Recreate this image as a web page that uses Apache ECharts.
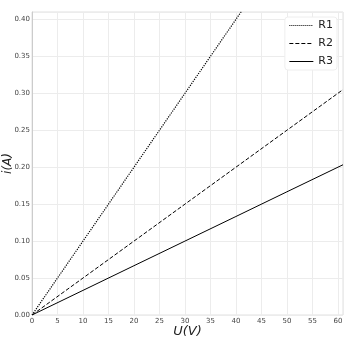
<!DOCTYPE html>
<html><head><meta charset="utf-8">
<script src="https://cdn.jsdelivr.net/npm/echarts@6/dist/echarts.min.js"></script>
<style>html,body{margin:0;padding:0;background:#fff}#c{width:351px;height:339px}</style>
</head><body><div id="c"></div>
<script>
const U = [0, 10, 20, 30, 40, 50, 61];
const R1 = [0, 0.10, 0.20, 0.30, 0.40, 0.50, 0.61];
const R2 = [0, 0.05, 0.10, 0.15, 0.20, 0.25, 0.305];
const R3 = [0, 0.0333, 0.0667, 0.10, 0.1333, 0.1667, 0.2033];
const names = ['R1', 'R2', 'R3'];
const styles = ['dotted', 'dashed', 'solid'];
const F = 'DejaVu Sans';
const chart = echarts.init(document.getElementById('c'));
const pair = a => U.map((u, i) => [u, a[i]]);
chart.setOption({
  animation: false,
  textStyle: {fontFamily: F},
  grid: {left: 32, right: 8, top: 12, bottom: 24, containLabel: false, outerBoundsMode: 'none',
    show: true, borderColor: '#e0e0e0', borderWidth: 1},
  legend: {
    data: names,
    orient: 'vertical', right: 14, top: 17,
    itemWidth: 24, itemHeight: 10, itemGap: 7,
    itemStyle: {opacity: 0},
    lineStyle: {width: 1},
    textStyle: {fontSize: 11, color: '#222', fontFamily: F},
    backgroundColor: '#fff', borderColor: '#eeeeee', borderWidth: 1, borderRadius: 3,
    padding: [3, 4, 3, 4]
  },
  xAxis: {
    type: 'value', min: 0, max: 61, interval: 5,
    name: 'U(V)', nameLocation: 'middle', nameGap: 10, nameMoveOverlap: false,
    nameTextStyle: {fontSize: 13, fontStyle: 'italic', color: '#222', fontFamily: F},
    axisLine: {show: false}, axisTick: {show: false},
    axisLabel: {fontSize: 7, color: '#444', margin: 3, showMaxLabel: false},
    splitLine: {show: true, lineStyle: {color: '#ececec', width: 1}}
  },
  yAxis: {
    type: 'value', min: 0, max: 0.41, interval: 0.05,
    name: 'i(A)', nameLocation: 'middle', nameGap: 18, nameRotate: 90, nameMoveOverlap: false,
    nameTextStyle: {fontSize: 12, fontStyle: 'italic', color: '#222', fontFamily: F},
    axisLine: {show: true, lineStyle: {color: '#cccccc'}}, axisTick: {show: false},
    axisLabel: {fontSize: 7, color: '#444', margin: 2, showMaxLabel: false,
      formatter: v => v.toFixed(2)},
    splitLine: {show: true, lineStyle: {color: '#ececec', width: 1}}
  },
  series: [R1, R2, R3].map((d, i) => ({
    name: names[i], type: 'line', data: pair(d), symbol: 'none', clip: true,
    lineStyle: {color: '#000', width: i === 0 ? 1.2 : 1, type: styles[i]},
    itemStyle: {color: '#000'}
  }))
});
</script></body></html>
